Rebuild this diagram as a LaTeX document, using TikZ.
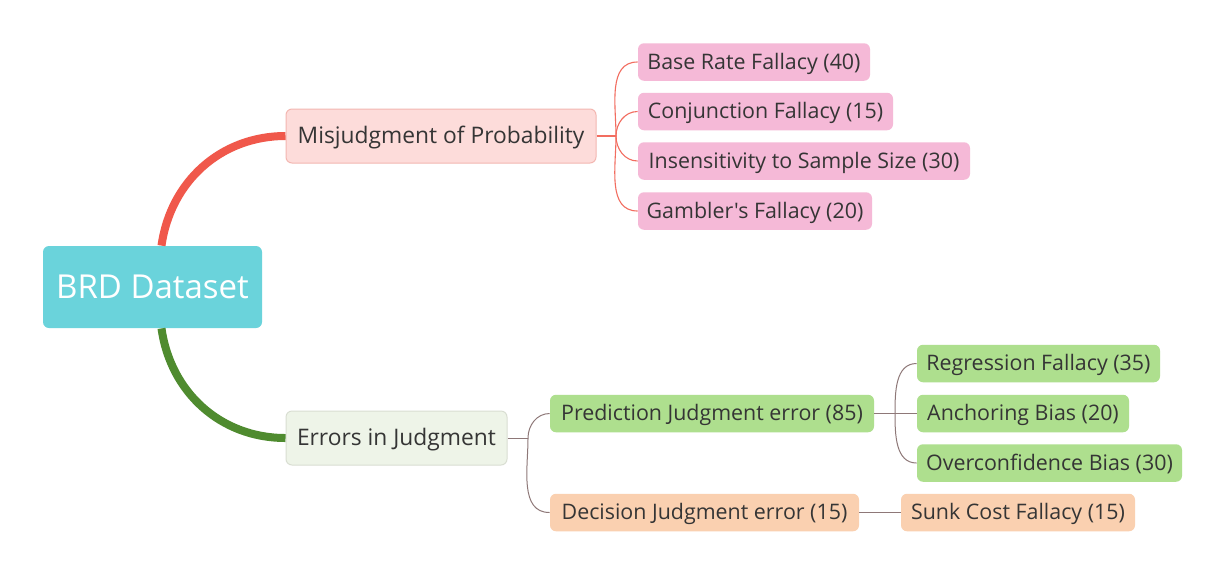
\documentclass[tikz,border=0pt]{standalone}
\usepackage{fontspec}
\setmainfont{Open Sans}[Ligatures=TeXOff]
\usetikzlibrary{calc}
\definecolor{txt}{HTML}{353535}
\definecolor{rootc}{HTML}{6AD3DB}
\definecolor{misfill}{HTML}{FDDCDA}
\definecolor{misline}{HTML}{F3B7B1}
\definecolor{errfill}{HTML}{EEF4E8}
\definecolor{errline}{HTML}{D9DED2}
\definecolor{pinkc}{HTML}{F5B9D7}
\definecolor{greenc}{HTML}{AEDF8E}
\definecolor{orangec}{HTML}{FAD0B0}
\definecolor{redthick}{HTML}{F0584B}
\definecolor{greenthick}{HTML}{4F8B2F}
\definecolor{redthinc}{HTML}{F26D60}
\definecolor{graythinc}{HTML}{8E7878}
\begin{document}
\begin{tikzpicture}[x=0.5pt,y=-0.5pt,
  box/.style={rounded corners=3pt, inner sep=0pt, align=center, text=txt},
  root/.style={box, fill=rootc, text=white, font=\fontsize{16.5}{19}\selectfont},
  lone/.style={box, font=\fontsize{11.4}{13}\selectfont, minimum height=27pt, line width=0.5pt, text height=0.8em, text depth=0.08em},
  misbox/.style={lone, fill=misfill, draw=misline},
  errbox/.style={lone, fill=errfill, draw=errline},
  leaf/.style={box, font=\fontsize{10.7}{12}\selectfont, minimum height=18.75pt, text height=0.8em, text depth=0.08em},
  pinkbox/.style={leaf, fill=pinkc},
  greenbox/.style={leaf, fill=greenc},
  orangebox/.style={leaf, fill=orangec},
  thickred/.style={draw=redthick, line width=4pt},
  thickgreen/.style={draw=greenthick, line width=4pt},
  thinred/.style={draw=redthinc, line width=0.55pt},
  thingray/.style={draw=graythinc, line width=0.5pt}
]
\useasboundingbox[fill=white] (0,0) rectangle (1213,563);

% nodes
\node[root, minimum width=109.5pt, minimum height=41pt] (brd) at (152.5,287) {BRD Dataset};
\node[misbox, minimum width=155pt] (mis) at (441,136) {Misjudgment of Probability};
\node[errbox, minimum width=110.5pt] (err) at (396.5,438) {Errors in Judgment};

\node[pinkbox, minimum width=116pt] (base) at (754,62) {Base Rate Fallacy (40)};
\node[pinkbox, minimum width=127.5pt] (conj) at (765.5,111.5) {Conjunction Fallacy (15)};
\node[pinkbox, minimum width=166pt] (ins) at (804,161) {Insensitivity to Sample Size (30)};
\node[pinkbox, minimum width=117pt] (gam) at (755,211) {Gambler's Fallacy (20)};

\node[greenbox, minimum width=162pt] (pred) at (712,413.5) {Prediction Judgment error (85)};
\node[orangebox, minimum width=154.5pt] (dec) at (704.5,512.5) {Decision Judgment error (15)};

\node[greenbox, minimum width=121.5pt] (reg) at (1038.5,363.5) {Regression Fallacy (35)};
\node[greenbox, minimum width=106pt] (anc) at (1023,413.5) {Anchoring Bias (20)};
\node[greenbox, minimum width=132.5pt] (over) at (1049.5,463) {Overconfidence Bias (30)};
\node[orangebox, minimum width=117pt] (sunk) at (1018,512.5) {Sunk Cost Fallacy (15)};

% junctions
\coordinate (rtop) at ($(brd.north)+(9,0)$);
\coordinate (rbot) at ($(brd.south)+(9,0)$);
\coordinate (jm) at (616,136);
\coordinate (je) at (528,438);
\coordinate (jp) at (895,413.5);

% main branches
\draw[thickred] (rtop) to[out=82,in=180] (mis.west);
\draw[thickgreen] (rbot) to[out=-82,in=180] (err.west);

% probability sub-branches
\draw[thinred] (mis.east) -- (jm);
\draw[thinred] (jm) to[out=90,in=180] (base.west);
\draw[thinred] (jm) to[out=90,in=180] (conj.west);
\draw[thinred] (jm) to[out=-90,in=180] (ins.west);
\draw[thinred] (jm) to[out=-90,in=180] (gam.west);

% judgment sub-branches
\draw[thingray] (err.east) -- (je);
\draw[thingray] (je) to[out=90,in=180] (pred.west);
\draw[thingray] (je) to[out=-90,in=180] (dec.west);
\draw[thingray] (pred.east) -- (jp);
\draw[thingray] (jp) to[out=90,in=180] (reg.west);
\draw[thingray] (jp) -- (anc.west);
\draw[thingray] (jp) to[out=-90,in=180] (over.west);
\draw[thingray] (dec.east) -- (sunk.west);
\end{tikzpicture}
\end{document}
